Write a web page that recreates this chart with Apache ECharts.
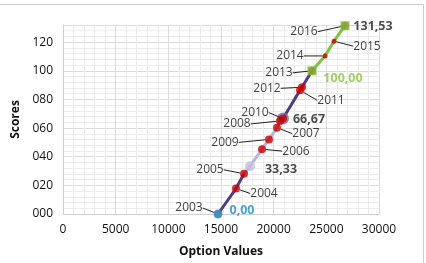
<!DOCTYPE html>
<html>
<head>
<meta charset="utf-8">
<script src="https://cdn.jsdelivr.net/npm/echarts@6/dist/echarts.min.js"></script>
<style>html,body{margin:0;padding:0;background:#fff}#c{width:426px;height:263px}</style>
</head>
<body>
<div id="c"></div>
<script>
// ---- data ----
var years = ['2003','2004','2005','2006','2007','2008','2009','2010','2011','2012','2013','2014','2015','2016'];
var optionValues = [14715, 16424, 17184, 18893, 20317, 20600, 19557, 20887, 22500, 22690, 23640, 24874, 25728, 26773];
var scores = [0, 17.8, 28.1, 45.3, 60.3, 65, 52.1, 66.67, 86.4, 88.5, 100, 110.4, 120.7, 131.53];
var indexLabels = ['0,00', '33,33', '66,67', '100,00', '131,53'];
var indexOptions = [14715, 17754, 20887, 23640, 26773];
var indexScores = [0, 33.33, 66.67, 100, 131.53];
var segmentBreakYears = ['2005', '2008', '2013'];
var xTicks = [0, 5000, 10000, 15000, 20000, 25000, 30000];
var yTicks = [0, 20, 40, 60, 80, 100, 120];

// ---- layout (label offsets in px, relative to the marker) ----
var yearLabelOffsets = [[-29,-6],[28,5],[-34,-4],[34,2],[29,6],[-43,3],[-44,3],[-28,-6],[31,10],[-35,1],[-33,2],[-35,0],[33,5],[-41,6]];
var indexLabelOffsets = [[24,-4],[31,3],[26,1],[31,8],[28,1]];
var indexStyles = [
  {symbol:'circle', size:9, color:'#2aa8e0', text:'#1f8fcf'},
  {symbol:'circle', size:10, color:'#c3c1dc', text:'#222'},
  {symbol:'circle', size:12, color:'#7868ae', text:'#222'},
  {symbol:'rect', size:9, color:'#7dc242', text:'#8cc63f'},
  {symbol:'rect', size:9, color:'#7dc242', text:'#222'}
];
var frontIdx = [0, 3, 4], backIdx = [1, 2];

// ---- build line path sorted by score ----
var pts = [];
for (var i = 0; i < years.length; i++) pts.push({x: optionValues[i], y: scores[i], year: years[i]});
pts.push({x: indexOptions[1], y: indexScores[1], year: null});
pts.sort(function(a,b){return a.y - b.y;});
var segColors = ['#4f3e80', '#b9b4d8', '#4f3e80', '#7dc242'];
var segments = [[]], si = 0;
pts.forEach(function(p){
  segments[si].push([p.x, p.y]);
  if (p.year && segmentBreakYears.indexOf(p.year) >= 0) { si++; segments[si] = [[p.x, p.y]]; }
});

var FONT = 'Open Sans';
function layoutFn(offsets){
  return function(params){
    var r = params.rect, o = offsets[params.dataIndex];
    return {x: r.x + r.width/2 + o[0], y: r.y + r.height/2 + o[1], align:'center', verticalAlign:'middle'};
  };
}

var series = [];
segments.forEach(function(seg, k){
  series.push({type:'line', data: seg, showSymbol:false, symbol:'none', z:2,
    lineStyle:{color: segColors[k], width:3}, silent:true, animation:false});
});
function indexSeries(idxs, z){
  return {type:'scatter', z:z, animation:false,
    data: idxs.map(function(j){
      var s = indexStyles[j];
      return {value:[indexOptions[j], indexScores[j]], symbol:s.symbol, symbolSize:s.size,
        itemStyle:{color:s.color},
        label:{show:true, formatter: indexLabels[j], color:s.text, fontWeight:'bold', fontSize:12.5, fontFamily:FONT}};
    }),
    labelLayout: function(params){
      var j = idxs[params.dataIndex], r = params.rect, o = indexLabelOffsets[j];
      return {x: r.x + r.width/2 + o[0], y: r.y + r.height/2 + o[1], align:'center', verticalAlign:'middle'};
    }
  };
}
series.push(indexSeries(backIdx, 3));
series.push({type:'scatter', z:4, animation:false,
  data: years.map(function(y, i){
    var small = (y === '2014' || y === '2015');
    return {value:[optionValues[i], scores[i]], name:y, symbolSize: small ? 5 : 8};
  }),
  itemStyle:{color:'#c80000'},
  label:{show:true, formatter:function(p){return p.name;}, color:'#111', fontSize:12, fontFamily:FONT},
  labelLine:{show:true, lineStyle:{color:'#222', width:1}},
  labelLayout: layoutFn(yearLabelOffsets)
});
series.push(indexSeries(frontIdx, 5));

var chart = echarts.init(document.getElementById('c'), null, {renderer:'canvas'});
chart.setOption({
  animation:false,
  backgroundColor:'#fff',
  grid:{left:63, right:47, top:25, bottom:45},
  graphic:[{type:'rect', shape:{x:-10, y:4.5, width:433.5, height:300}, style:{fill:'none', stroke:'#cfcfcf', lineWidth:1}, silent:true}],
  xAxis:{type:'value', min:xTicks[0], max:xTicks[xTicks.length-1], interval:xTicks[1]-xTicks[0],
    name:'Option Values', nameLocation:'middle', nameGap:32,
    nameTextStyle:{fontWeight:'bold', fontSize:12, color:'#111', fontFamily:FONT},
    axisLine:{show:true, lineStyle:{color:'#cfcfcf'}}, axisTick:{show:false},
    axisLabel:{color:'#111', fontSize:12, fontFamily:FONT, margin:10, formatter:function(v){return String(v);}},
    splitLine:{show:true, lineStyle:{color:'#dcdcdc'}},
    minorTick:{show:false, splitNumber:5},
    minorSplitLine:{show:true, lineStyle:{color:'#ececec'}}
  },
  yAxis:{type:'value', min:yTicks[0], max:132, interval:yTicks[1]-yTicks[0],
    name:'Scores', nameLocation:'middle', nameGap:40, nameRotate:90,
    nameTextStyle:{fontWeight:'bold', fontSize:12, color:'#111', fontFamily:FONT},
    axisLine:{show:true, lineStyle:{color:'#cfcfcf'}}, axisTick:{show:false},
    axisLabel:{color:'#111', fontSize:12, fontFamily:FONT, margin:10, showMaxLabel:false,
      formatter:function(v){ return yTicks.indexOf(v) >= 0 ? ('00' + v).slice(-3) : ''; }},
    splitLine:{show:true, lineStyle:{color:'#dcdcdc'}},
    minorTick:{show:false, splitNumber:5},
    minorSplitLine:{show:true, lineStyle:{color:'#ececec'}}
  },
  series: series
});
</script>
</body>
</html>
